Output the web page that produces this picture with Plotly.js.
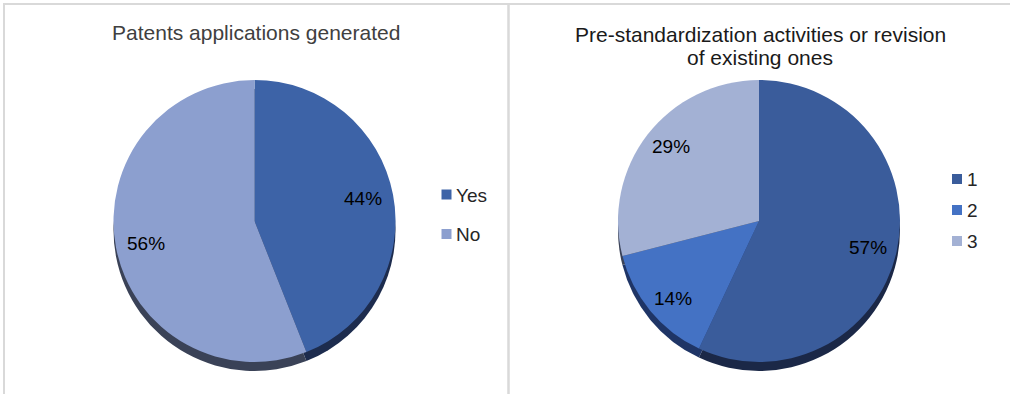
<!DOCTYPE html>
<html>
<head>
<meta charset="utf-8">
<script src="https://cdn.plot.ly/plotly-3.0.1.min.js"></script>
<style>
html,body{margin:0;padding:0;background:#fff;}
#chart{width:1010px;height:394px;}
</style>
</head>
<body>
<div id="chart"></div>
<script>
// ---- data ----
const leftTitle = 'Patents applications generated';
const leftLabels = ['Yes', 'No'];
const leftValues = [44, 56];
const leftColors = ['#3d63a7', '#8c9fcf'];
const leftShadow = ['#1d2c4e', '#3a4257'];

const rightTitleLines = ['Pre-standardization activities or revision', 'of existing ones'];
const rightLabels = ['1', '2', '3'];
const rightValues = [57, 14, 29];
const rightColors = ['#3a5c9b', '#4472c4', '#a3b1d4'];
const rightShadow = ['#1b2847', '#1f3566', '#3a4257'];

// ---- layout helpers (pixel -> paper) ----
const W = 1010, H = 394;
const px = x => x / W;
const py = y => 1 - y / H;
const R = 141;
function dom(cx, cy) {
  return { x: [px(cx - R), px(cx + R)], y: [py(cy + R), py(cy - R)] };
}
const L = { cx: 254.5, cy: 221 };
const Rt = { cx: 759, cy: 221 };
const SH = 9;
const font = 'Liberation Sans, Arial, sans-serif';

function pie(labels, values, colors, d) {
  return {
    type: 'pie', labels: labels, values: values, sort: false,
    direction: 'clockwise', rotation: 0,
    marker: { colors: colors, line: { width: 0 } },
    domain: d, showlegend: false, hoverinfo: 'skip', textinfo: 'none'
  };
}

const data = [
  pie(leftLabels, leftValues, leftShadow, dom(L.cx, L.cy + SH)),
  pie(leftLabels, leftValues, leftColors, dom(L.cx, L.cy)),
  pie(rightLabels, rightValues, rightShadow, dom(Rt.cx, Rt.cy + SH)),
  pie(rightLabels, rightValues, rightColors, dom(Rt.cx, Rt.cy))
];

const annotations = [
  { text: leftTitle, x: px(256), y: py(33), xref: 'paper', yref: 'paper', showarrow: false,
    xanchor: 'center', yanchor: 'middle', font: { family: font, size: 21, color: '#404040' } }
];
rightTitleLines.forEach((t, i) => annotations.push({
  text: t, x: px(760), y: py(34 + i * 23), xref: 'paper', yref: 'paper', showarrow: false,
  xanchor: 'center', yanchor: 'middle', font: { family: font, size: 21, color: '#1a1a1a' }
}));

const shapes = [
  { type: 'line', xref: 'paper', yref: 'paper', x0: px(3), x1: px(1010), y0: py(4), y1: py(4), line: { color: '#d9d9d9', width: 2 } },
  { type: 'line', xref: 'paper', yref: 'paper', x0: px(4), x1: px(4), y0: py(4), y1: py(394), line: { color: '#d9d9d9', width: 2 } },
  { type: 'line', xref: 'paper', yref: 'paper', x0: px(508.5), x1: px(508.5), y0: py(4), y1: py(394), line: { color: '#d9d9d9', width: 2.5 } }
];

// percentage labels positioned at each slice's mid-angle (derived from the values)
function pctLabels(values, c, rx, ry) {
  const tot = values.reduce((a, b) => a + b, 0);
  let cum = 0;
  values.forEach(v => {
    const mid = (cum + v / 2) / tot * 2 * Math.PI;
    cum += v;
    annotations.push({
      text: Math.round(v / tot * 100) + '%',
      x: px(c.cx + rx * Math.sin(mid)), y: py(c.cy - ry * Math.cos(mid)),
      xref: 'paper', yref: 'paper', showarrow: false, xanchor: 'center', yanchor: 'middle',
      font: { family: font, size: 19, color: '#000000' }
    });
  });
}
pctLabels(leftValues, L, 110, 120);
pctLabels(rightValues, Rt, 112, 122);

// legends (built from the label / colour arrays)
function legend(labels, colors, x0, y0, gap) {
  labels.forEach((lab, i) => {
    const yc = y0 + i * gap;
    shapes.push({ type: 'rect', xref: 'paper', yref: 'paper', x0: px(x0), x1: px(x0 + 10),
      y0: py(yc + 5), y1: py(yc - 5), fillcolor: colors[i], line: { width: 0 } });
    annotations.push({ text: lab, x: px(x0 + 12.5), y: py(yc + 0.5), xref: 'paper', yref: 'paper', showarrow: false,
      xanchor: 'left', yanchor: 'middle', font: { family: font, size: 19, color: '#262626' } });
  });
}
legend(leftLabels, leftColors, 441.5, 194.5, 39.5);
legend(rightLabels, rightColors, 952, 179, 31);

const layout = {
  width: W, height: H, margin: { l: 0, r: 0, t: 0, b: 0 },
  paper_bgcolor: '#ffffff', plot_bgcolor: '#ffffff',
  showlegend: false, annotations: annotations, shapes: shapes,
  font: { family: font }
};
Plotly.newPlot('chart', data, layout, { displayModeBar: false, staticPlot: true });
</script>
</body>
</html>
